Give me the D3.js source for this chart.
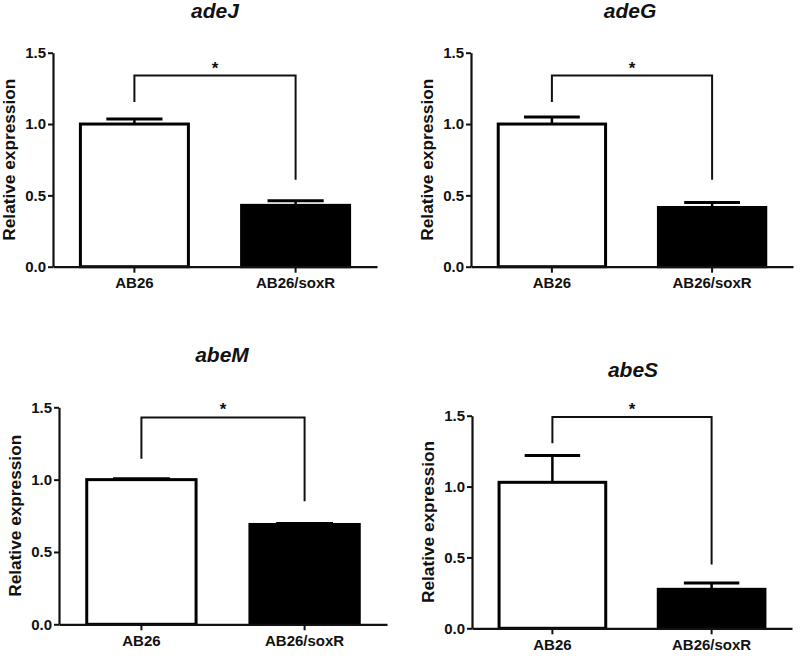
<!DOCTYPE html>
<html>
<head>
<meta charset="utf-8">
<script src="https://cdn.jsdelivr.net/npm/d3@7"></script>
<style>
  body { margin: 0; background: #fff; }
  text { font-family: "Liberation Sans", Arial, sans-serif; font-weight: bold; fill: #111; }
</style>
</head>
<body>
<div id="chart"></div>
<script>
(function() {
  var width = 800, height = 659;

  // data
  var genes = ["adeJ", "adeG", "abeM", "abeS"];
  var strains = ["AB26", "AB26/soxR"];
  var meanAB26 = [1.00, 1.00, 1.00, 1.03];
  var meanSoxR = [0.43, 0.415, 0.69, 0.275];
  var errAB26 = [0.035, 0.05, 0.006, 0.19];
  var errSoxR = [0.033, 0.035, 0.006, 0.045];
  var yTicks = [0, 0.5, 1.0, 1.5];
  var sigMark = ["*", "*", "*", "*"];
  // significance bracket, in data units
  var bracketTop = [1.34, 1.34, 1.43, 1.49];
  var bracketLeftEnd = [1.155, 1.155, 1.145, 1.305];
  var bracketRightEnd = [0.61, 0.61, 0.85, 0.45];

  // where each small panel sits on the page
  var panels = [
    { x0: 53,  x1: 377, yTop: 52.7,  yBot: 266.7, titleX: 215, titleY: 18 },
    { x0: 471, x1: 793, yTop: 52.7,  yBot: 266.7, titleX: 630, titleY: 18 },
    { x0: 59,  x1: 387, yTop: 407.3, yBot: 624.3, titleX: 222, titleY: 362 },
    { x0: 472, x1: 792, yTop: 415.7, yBot: 628.3, titleX: 633, titleY: 377 }
  ];

  var svg = d3.select("#chart")
    .append("svg")
    .attr("width", width)
    .attr("height", height);

  genes.forEach(function(gene, i) {
    var p = panels[i];
    var g = svg.append("g");

    var x = d3.scaleBand().domain(strains).range([p.x0, p.x1])
      .paddingInner(0.33).paddingOuter(0.17);
    var y = d3.scaleLinear().domain([0, 1.5]).range([p.yBot, p.yTop]);

    var rows = [
      { strain: strains[0], mean: meanAB26[i], err: errAB26[i], fill: "#fff" },
      { strain: strains[1], mean: meanSoxR[i], err: errSoxR[i], fill: "#000" }
    ];

    // error bars first (upper side only)
    var cap = x.bandwidth() * 0.26;
    rows.forEach(function(d) {
      var cx = x(d.strain) + x.bandwidth() / 2;
      g.append("line")
        .attr("x1", cx).attr("x2", cx)
        .attr("y1", y(d.mean)).attr("y2", y(d.mean + d.err))
        .attr("stroke", "#000").attr("stroke-width", 2.5);
      g.append("line")
        .attr("x1", cx - cap).attr("x2", cx + cap)
        .attr("y1", y(d.mean + d.err)).attr("y2", y(d.mean + d.err))
        .attr("stroke", "#000").attr("stroke-width", 3);
    });

    g.selectAll(".bar")
      .data(rows)
      .enter().append("rect")
      .attr("class", "bar")
      .attr("x", function(d) { return x(d.strain); })
      .attr("width", x.bandwidth())
      .attr("y", function(d) { return y(d.mean); })
      .attr("height", function(d) { return y(0) - y(d.mean); })
      .attr("fill", function(d) { return d.fill; })
      .attr("stroke", "#000")
      .attr("stroke-width", 3);

    // axes
    var yAxis = g.append("g")
      .attr("transform", "translate(" + p.x0 + ",0)")
      .call(d3.axisLeft(y).tickValues(yTicks).tickFormat(d3.format(".1f"))
        .tickSize(5).tickSizeOuter(0).tickPadding(2));
    var xAxis = g.append("g")
      .attr("transform", "translate(0," + p.yBot + ")")
      .call(d3.axisBottom(x).tickSize(6).tickSizeOuter(0).tickPadding(5));

    [yAxis, xAxis].forEach(function(a) {
      a.select(".domain").attr("stroke", "#111").attr("stroke-width", 2.2);
      a.selectAll(".tick line").attr("stroke", "#111").attr("stroke-width", 2);
      a.selectAll("text").attr("font-size", 15).attr("fill", "#111")
        .attr("font-family", "Liberation Sans, Arial, sans-serif")
        .attr("font-weight", "bold");
    });

    // y label
    g.append("text")
      .attr("transform", "translate(" + (p.x0 - 44) + "," + ((p.yTop + p.yBot) / 2) + ") rotate(-90)")
      .attr("text-anchor", "middle")
      .attr("dy", "0.35em")
      .attr("font-size", 16)
      .attr("textLength", 162)
      .attr("lengthAdjust", "spacingAndGlyphs")
      .text("Relative expression");

    // title
    g.append("text")
      .attr("x", p.titleX).attr("y", p.titleY)
      .attr("text-anchor", "middle")
      .attr("font-size", 21)
      .attr("font-style", "italic")
      .text(gene);

    // significance bracket
    var lx = x(strains[0]) + x.bandwidth() / 2,
      rx = x(strains[1]) + x.bandwidth() / 2;
    g.append("path")
      .attr("d", "M" + lx + "," + y(bracketLeftEnd[i]) +
        "V" + y(bracketTop[i]) + "H" + rx + "V" + y(bracketRightEnd[i]))
      .attr("fill", "none")
      .attr("stroke", "#111")
      .attr("stroke-width", 2);
    g.append("text")
      .attr("x", (lx + rx) / 2)
      .attr("y", y(bracketTop[i]) - 2)
      .attr("text-anchor", "middle")
      .attr("font-size", 17)
      .attr("font-weight", "normal")
      .text(sigMark[i]);
  });
})();
</script>
</body>
</html>
